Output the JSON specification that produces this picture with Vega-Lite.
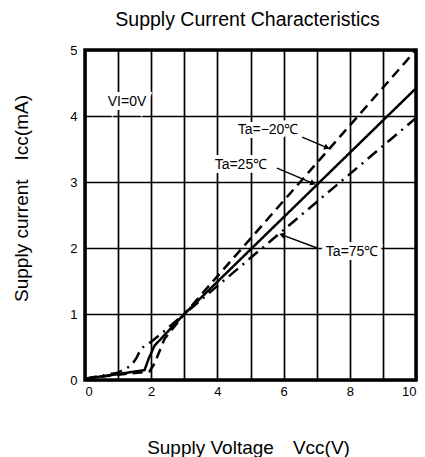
{
  "$schema": "https://vega.github.io/schema/vega-lite/v6.json",
  "width": 331,
  "height": 330,
  "autosize": {"type": "none"},
  "padding": {"left": 85, "top": 50, "right": 9, "bottom": 77},
  "background": "white",
  "title": {"text": "Supply Current Characteristics", "font": "Liberation Sans", "fontSize": 19.5, "fontWeight": "normal", "color": "black", "anchor": "middle", "offset": 14, "dx": -3},
  "config": {
    "view": {"stroke": "black", "strokeWidth": 3.5},
    "axis": {"grid": true, "gridColor": "black", "gridWidth": 1.7, "gridOpacity": 1, "ticks": false, "domain": false, "labelFont": "Liberation Sans", "labelFontSize": 13, "labelColor": "black", "titleFont": "Liberation Sans", "titleFontSize": 19, "titleFontWeight": "normal", "titleColor": "black"}
  },
  "datasets": {
    "curves": [
      {"series": "25", "v": 0, "i": 0.02},
      {"series": "25", "v": 1, "i": 0.09},
      {"series": "25", "v": 1.8, "i": 0.15},
      {"series": "25", "v": 1.92, "i": 0.32},
      {"series": "25", "v": 2.1, "i": 0.52},
      {"series": "25", "v": 3, "i": 1.0},
      {"series": "25", "v": 10, "i": 4.42},
      {"series": "-20", "v": 0, "i": 0.02},
      {"series": "-20", "v": 1, "i": 0.08},
      {"series": "-20", "v": 1.95, "i": 0.13},
      {"series": "-20", "v": 2.1, "i": 0.25},
      {"series": "-20", "v": 2.4, "i": 0.62},
      {"series": "-20", "v": 3, "i": 1.0},
      {"series": "-20", "v": 10, "i": 5.0},
      {"series": "75", "v": 0, "i": 0.02},
      {"series": "75", "v": 1, "i": 0.11},
      {"series": "75", "v": 1.4, "i": 0.22},
      {"series": "75", "v": 1.55, "i": 0.33},
      {"series": "75", "v": 1.7, "i": 0.48},
      {"series": "75", "v": 2, "i": 0.58},
      {"series": "75", "v": 2.3, "i": 0.7},
      {"series": "75", "v": 3, "i": 1.0},
      {"series": "75", "v": 10, "i": 3.97}
    ],
    "labels": [
      {"text": "VI=0V", "v": 1.27, "i": 4.21},
      {"text": "Ta=−20℃", "v": 5.53, "i": 3.79},
      {"text": "Ta=25℃", "v": 4.71, "i": 3.26},
      {"text": "Ta=75℃", "v": 8.07, "i": 1.94}
    ],
    "arrows": [
      {"v": 6.56, "i": 3.68, "v2": 7.31, "i2": 3.52, "angle": 24},
      {"v": 5.8, "i": 3.21, "v2": 6.89, "i2": 2.98, "angle": 23},
      {"v": 7.01, "i": 2.0, "v2": 5.95, "i2": 2.2, "angle": 200}
    ]
  },
  "encoding": {
    "x": {"field": "v", "type": "quantitative", "scale": {"domain": [0, 10], "nice": false, "zero": false},
      "axis": {"values": [0,1,2,3,4,5,6,7,8,9,10], "labelExpr": "datum.value % 2 == 0 ? datum.label : ''", "labelPadding": 5, "title": "Supply Voltage\u3000Vcc(V)", "titleY": 67, "titleX": 163, "titleBaseline": "middle"}},
    "y": {"field": "i", "type": "quantitative", "scale": {"domain": [0, 5], "nice": false, "zero": false},
      "axis": {"values": [0,0.5,1,1.5,2,2.5,3,3.5,4,4.5,5], "format": "d", "labelExpr": "datum.value % 1 == 0 ? datum.label : ''", "labelPadding": 8, "title": "Supply current\u3000Icc(mA)", "titleX": -64, "titleY": 148, "titleBaseline": "middle", "titleAngle": -90}}
  },
  "layer": [
    {
      "data": {"name": "curves"},
      "mark": {"type": "line", "color": "black", "strokeWidth": 2.5, "clip": true},
      "encoding": {
        "detail": {"field": "series"},
        "strokeDash": {"field": "series", "type": "nominal", "scale": {"domain": ["25", "-20", "75"], "range": [[1, 0], [10, 6], [12, 6, 2, 6]]}, "legend": null}
      }
    },
    {
      "data": {"name": "arrows"},
      "mark": {"type": "rule", "color": "black", "strokeWidth": 1.4},
      "encoding": {"x2": {"field": "v2"}, "y2": {"field": "i2"}}
    },
    {
      "data": {"name": "arrows"},
      "mark": {"type": "point", "shape": "triangle-right", "filled": true, "color": "black", "size": 40, "opacity": 1},
      "encoding": {"x": {"field": "v2", "type": "quantitative"}, "y": {"field": "i2", "type": "quantitative"}, "angle": {"field": "angle", "type": "quantitative", "scale": null}}
    },
    {
      "data": {"name": "labels"},
      "mark": {"type": "text", "font": "Liberation Sans", "fontSize": 14, "stroke": "white", "strokeWidth": 8, "fill": "white", "align": "center", "baseline": "middle"},
      "encoding": {"text": {"field": "text"}}
    },
    {
      "data": {"name": "labels"},
      "mark": {"type": "text", "font": "Liberation Sans", "fontSize": 14, "color": "black", "align": "center", "baseline": "middle"},
      "encoding": {"text": {"field": "text"}}
    }
  ]
}
